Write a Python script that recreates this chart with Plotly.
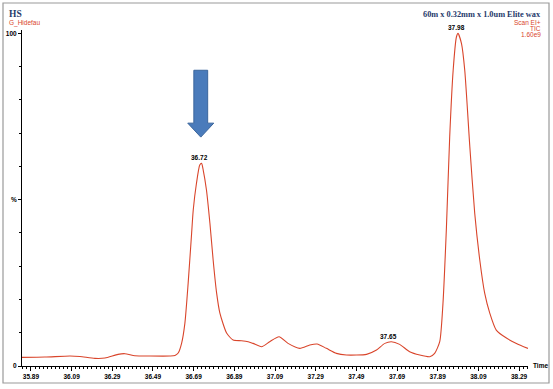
import plotly.graph_objects as go

# ---- data ----
time_min = [35.846, 35.959, 36.082, 36.131, 36.204, 36.254, 36.318, 36.352, 36.401, 36.475,
            36.573, 36.598, 36.614, 36.631, 36.647, 36.663, 36.680, 36.688, 36.704, 36.720,
            36.729, 36.737, 36.753, 36.770, 36.786, 36.803, 36.819, 36.852, 36.884, 36.925,
            36.958, 36.982, 37.024, 37.064, 37.110, 37.154, 37.212, 37.261, 37.297, 37.343,
            37.392, 37.441, 37.540, 37.589, 37.630, 37.662, 37.703, 37.752, 37.802, 37.851,
            37.875, 37.900, 37.916, 37.933, 37.949, 37.966, 37.982, 37.990, 38.007, 38.023,
            38.048, 38.072, 38.097, 38.121, 38.146, 38.178, 38.228, 38.277, 38.334]
intensity_pct = [2.6, 2.7, 3.0, 2.85, 2.3, 2.4, 3.5, 3.7, 3.1, 3.0,
                 3.0, 3.15, 3.9, 6.9, 12.9, 24.9, 39.9, 46.9, 55.0, 60.4,
                 60.9, 58.9, 52.9, 42.9, 31.8, 21.9, 15.9, 9.9, 7.8, 7.6,
                 7.3, 6.8, 5.8, 7.3, 8.8, 6.8, 5.3, 6.3, 6.6, 5.3,
                 3.8, 3.3, 3.5, 4.8, 6.8, 7.3, 6.5, 4.3, 3.3, 2.8,
                 3.8, 7.3, 18.9, 41.8, 68.9, 88.9, 98.9, 100.0, 96.9, 88.9,
                 65.9, 45.9, 31.8, 21.9, 15.9, 10.8, 8.4, 6.8, 5.3]

peak_times = [36.72, 37.65, 37.98]
peak_labels = ["36.72", "37.65", "37.98"]
peak_heights = [60.9, 7.3, 100.0]

x_tick_vals = [35.89, 36.09, 36.29, 36.49, 36.69, 36.89, 37.09, 37.29, 37.49, 37.69, 37.89, 38.09, 38.29]
x_tick_text = ["35.89", "36.09", "36.29", "36.49", "36.69", "36.89", "37.09",
               "37.29", "37.49", "37.69", "37.89", "38.09", "38.29"]
y_tick_vals = [0, 50, 100]
y_tick_text = ["0", "%", "100"]

LINE = "#d9452b"
NAVY = "#263a6b"

fig = go.Figure()
fig.add_trace(go.Scatter(
    x=time_min, y=intensity_pct, mode="lines",
    line=dict(color=LINE, width=1.1, shape="spline", smoothing=0.6),
    hoverinfo="skip", showlegend=False))

for t, lab, h in zip(peak_times, peak_labels, peak_heights):
    fig.add_annotation(x=t, y=h, text="<b>" + lab + "</b>", showarrow=False,
                       xanchor="center", yanchor="bottom", yshift=0,
                       font=dict(family="Liberation Sans, Arial", size=6.5, color="black"))

# blue arrow pointing at the 36.72 peak
ac = peak_times[0] + 0.005
sw, hw = 0.034, 0.064
y_top, y_neck, y_tip = 88.9, 73.0, 68.8
path = (f"M {ac - sw},{y_top} L {ac + sw},{y_top} L {ac + sw},{y_neck} "
        f"L {ac + hw},{y_neck} L {ac},{y_tip} L {ac - hw},{y_neck} L {ac - sw},{y_neck} Z")
fig.add_shape(type="path", path=path, xref="x", yref="y",
              fillcolor="#4a7bbb", line=dict(color="#3a659c", width=1))

# outer grey frame
fig.add_shape(type="rect", xref="paper", yref="paper",
              x0=(3 - 22) / 506, x1=(549 - 22) / 506,
              y0=(366 - 383) / 336, y1=(366 - 3) / 336,
              line=dict(color="#9a9a9a", width=1.2), fillcolor="rgba(0,0,0,0)")

def px(xp):
    return (xp - 22) / 506

def py(yp):
    return (366 - yp) / 336

serif = "Liberation Serif, Times New Roman, serif"
sans = "Liberation Sans, Arial, sans-serif"
fig.add_annotation(xref="paper", yref="paper", x=px(7), y=py(14), text="<b>HS</b>",
                   showarrow=False, xanchor="left", yanchor="middle",
                   font=dict(family=serif, size=9.5, color=NAVY))
fig.add_annotation(xref="paper", yref="paper", x=px(7), y=py(23), text="G_Hidefau",
                   showarrow=False, xanchor="left", yanchor="middle",
                   font=dict(family=sans, size=6.5, color=LINE))
fig.add_annotation(xref="paper", yref="paper", x=px(543), y=py(15),
                   text="<b>60m x 0.32mm x 1.0um Elite wax</b>",
                   showarrow=False, xanchor="right", yanchor="middle",
                   font=dict(family=serif, size=8.3, color=NAVY))
for txt, yp in [("Scan EI+", 22.5), ("TIC", 28.5), ("1.60e9", 34.5)]:
    fig.add_annotation(xref="paper", yref="paper", x=px(543), y=py(yp), text=txt,
                       showarrow=False, xanchor="right", yanchor="middle",
                       font=dict(family=sans, size=6.5, color=LINE))
fig.add_annotation(xref="paper", yref="paper", x=px(531), y=py(365), text="<b>Time</b>",
                   showarrow=False, xanchor="left", yanchor="middle",
                   font=dict(family=sans, size=6.5, color="black"))

fig.update_layout(
    width=553, height=389,
    margin=dict(l=22, r=25, t=30, b=23, autoexpand=False),
    paper_bgcolor="white", plot_bgcolor="white",
    xaxis=dict(range=[35.846, 38.334], tickmode="array", tickvals=x_tick_vals,
               ticktext=x_tick_text, ticks="outside", ticklen=4, tickwidth=1,
               tickcolor="black", showline=True, linecolor="black", linewidth=1,
               showgrid=False, zeroline=False, automargin=False,
               tickfont=dict(family=sans, size=6.5, color="black", weight="bold"),
               minor=dict(tickmode="linear", tick0=35.89, dtick=0.02, ticks="outside",
                          ticklen=2, tickcolor="black", showgrid=False)),
    yaxis=dict(range=[0, 101], tickmode="array", tickvals=y_tick_vals,
               ticktext=y_tick_text, ticks="outside", ticklen=3, tickwidth=1,
               tickcolor="black", showline=True, linecolor="black", linewidth=1,
               showgrid=False, zeroline=False, automargin=False,
               tickfont=dict(family=sans, size=6.5, color="black", weight="bold"),
               minor=dict(tickmode="linear", tick0=0, dtick=10, ticks="outside",
                          ticklen=2, tickcolor="black", showgrid=False)),
)

fig.write_html("out.html", config={"displayModeBar": False},
               post_script="document.body.style.margin='0px';")
